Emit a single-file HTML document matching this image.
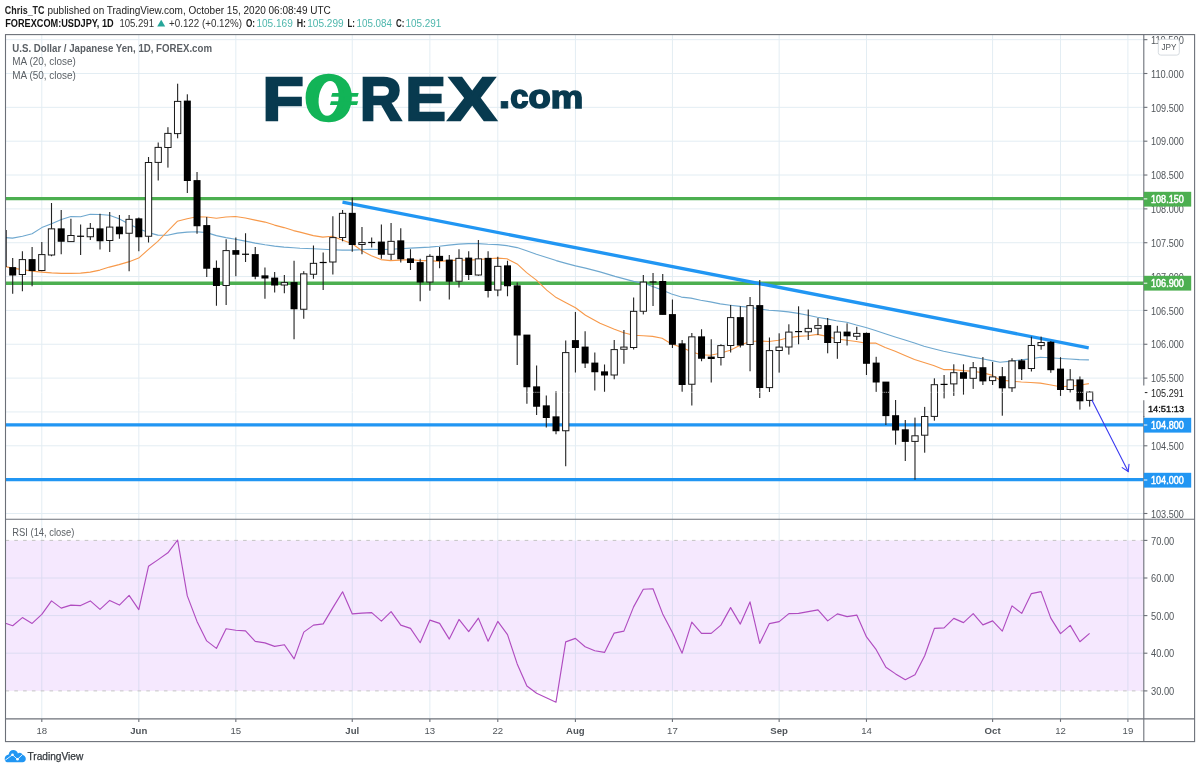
<!DOCTYPE html>
<html lang="en"><head><meta charset="utf-8"><title>USDJPY chart</title>
<style>html,body{margin:0;padding:0;background:#fff}body{width:1200px;height:771px;overflow:hidden;position:relative}svg{position:absolute;left:0;top:0;display:block}text{font-family:"Liberation Sans",sans-serif;white-space:pre}</style></head><body>
<svg width="1200" height="771" viewBox="0 0 1200 771">
<rect x="0" y="0" width="1200" height="771" fill="#fff"/>
<rect x="5.5" y="540.4" width="1138.3" height="150.5" fill="#f5e8fe"/>
<g stroke="#e3edf3" stroke-width="1" fill="none">
<line x1="5.5" x2="1143.8" y1="39.66" y2="39.66"/>
<line x1="5.5" x2="1143.8" y1="73.50" y2="73.50"/>
<line x1="5.5" x2="1143.8" y1="107.34" y2="107.34"/>
<line x1="5.5" x2="1143.8" y1="141.19" y2="141.19"/>
<line x1="5.5" x2="1143.8" y1="175.03" y2="175.03"/>
<line x1="5.5" x2="1143.8" y1="208.88" y2="208.88"/>
<line x1="5.5" x2="1143.8" y1="242.72" y2="242.72"/>
<line x1="5.5" x2="1143.8" y1="276.57" y2="276.57"/>
<line x1="5.5" x2="1143.8" y1="310.41" y2="310.41"/>
<line x1="5.5" x2="1143.8" y1="344.26" y2="344.26"/>
<line x1="5.5" x2="1143.8" y1="378.11" y2="378.11"/>
<line x1="5.5" x2="1143.8" y1="411.95" y2="411.95"/>
<line x1="5.5" x2="1143.8" y1="445.79" y2="445.79"/>
<line x1="5.5" x2="1143.8" y1="479.64" y2="479.64"/>
<line x1="5.5" x2="1143.8" y1="513.49" y2="513.49"/>
<line x1="41.80" x2="41.80" y1="34.6" y2="519.3"/>
<line x1="138.82" x2="138.82" y1="34.6" y2="519.3"/>
<line x1="235.84" x2="235.84" y1="34.6" y2="519.3"/>
<line x1="352.26" x2="352.26" y1="34.6" y2="519.3"/>
<line x1="429.88" x2="429.88" y1="34.6" y2="519.3"/>
<line x1="497.79" x2="497.79" y1="34.6" y2="519.3"/>
<line x1="575.41" x2="575.41" y1="34.6" y2="519.3"/>
<line x1="672.43" x2="672.43" y1="34.6" y2="519.3"/>
<line x1="779.15" x2="779.15" y1="34.6" y2="519.3"/>
<line x1="866.47" x2="866.47" y1="34.6" y2="519.3"/>
<line x1="992.60" x2="992.60" y1="34.6" y2="519.3"/>
<line x1="1060.51" x2="1060.51" y1="34.6" y2="519.3"/>
<line x1="1127.90" x2="1127.90" y1="34.6" y2="519.3"/>
</g>
<g stroke="#dcdcf2" stroke-width="1" fill="none">
<line x1="5.5" x2="1143.8" y1="578" y2="578"/>
<line x1="5.5" x2="1143.8" y1="615.6" y2="615.6"/>
<line x1="5.5" x2="1143.8" y1="653.2" y2="653.2"/>
<line x1="41.80" x2="41.80" y1="540.4" y2="690.9"/>
<line x1="138.82" x2="138.82" y1="540.4" y2="690.9"/>
<line x1="235.84" x2="235.84" y1="540.4" y2="690.9"/>
<line x1="352.26" x2="352.26" y1="540.4" y2="690.9"/>
<line x1="429.88" x2="429.88" y1="540.4" y2="690.9"/>
<line x1="497.79" x2="497.79" y1="540.4" y2="690.9"/>
<line x1="575.41" x2="575.41" y1="540.4" y2="690.9"/>
<line x1="672.43" x2="672.43" y1="540.4" y2="690.9"/>
<line x1="779.15" x2="779.15" y1="540.4" y2="690.9"/>
<line x1="866.47" x2="866.47" y1="540.4" y2="690.9"/>
<line x1="992.60" x2="992.60" y1="540.4" y2="690.9"/>
<line x1="1060.51" x2="1060.51" y1="540.4" y2="690.9"/>
<line x1="1127.90" x2="1127.90" y1="540.4" y2="690.9"/>
</g>
<g stroke="#e3edf3" stroke-width="1" fill="none">
<line x1="41.80" x2="41.80" y1="519.3" y2="540.4"/><line x1="41.80" x2="41.80" y1="690.9" y2="718.9"/>
<line x1="138.82" x2="138.82" y1="519.3" y2="540.4"/><line x1="138.82" x2="138.82" y1="690.9" y2="718.9"/>
<line x1="235.84" x2="235.84" y1="519.3" y2="540.4"/><line x1="235.84" x2="235.84" y1="690.9" y2="718.9"/>
<line x1="352.26" x2="352.26" y1="519.3" y2="540.4"/><line x1="352.26" x2="352.26" y1="690.9" y2="718.9"/>
<line x1="429.88" x2="429.88" y1="519.3" y2="540.4"/><line x1="429.88" x2="429.88" y1="690.9" y2="718.9"/>
<line x1="497.79" x2="497.79" y1="519.3" y2="540.4"/><line x1="497.79" x2="497.79" y1="690.9" y2="718.9"/>
<line x1="575.41" x2="575.41" y1="519.3" y2="540.4"/><line x1="575.41" x2="575.41" y1="690.9" y2="718.9"/>
<line x1="672.43" x2="672.43" y1="519.3" y2="540.4"/><line x1="672.43" x2="672.43" y1="690.9" y2="718.9"/>
<line x1="779.15" x2="779.15" y1="519.3" y2="540.4"/><line x1="779.15" x2="779.15" y1="690.9" y2="718.9"/>
<line x1="866.47" x2="866.47" y1="519.3" y2="540.4"/><line x1="866.47" x2="866.47" y1="690.9" y2="718.9"/>
<line x1="992.60" x2="992.60" y1="519.3" y2="540.4"/><line x1="992.60" x2="992.60" y1="690.9" y2="718.9"/>
<line x1="1060.51" x2="1060.51" y1="519.3" y2="540.4"/><line x1="1060.51" x2="1060.51" y1="690.9" y2="718.9"/>
<line x1="1127.90" x2="1127.90" y1="519.3" y2="540.4"/><line x1="1127.90" x2="1127.90" y1="690.9" y2="718.9"/>
</g>
<g stroke="#c4c4c4" stroke-width="1" stroke-dasharray="3.6,5.2"><line x1="5.5" x2="1143.8" y1="540.4" y2="540.4"/><line x1="5.5" x2="1143.8" y1="690.9" y2="690.9"/></g>
<g id="forexlogo"><text font-weight="bold" stroke-linejoin="miter"><tspan x="262.48" y="119.90" font-size="61.92" textLength="41.20" lengthAdjust="spacingAndGlyphs" fill="#083a4f" stroke="#083a4f" stroke-width="2.6">F</tspan><tspan x="307.06" y="117.98" font-size="56.64" textLength="43.54" lengthAdjust="spacingAndGlyphs" fill="#12b457" stroke="#12b457" stroke-width="7.5">O</tspan><tspan x="360.03" y="119.90" font-size="61.92" textLength="41.69" lengthAdjust="spacingAndGlyphs" fill="#083a4f" stroke="#083a4f" stroke-width="2.6">R</tspan><tspan x="405.56" y="119.90" font-size="61.92" textLength="40.19" lengthAdjust="spacingAndGlyphs" fill="#083a4f" stroke="#083a4f" stroke-width="2.6">E</tspan><tspan x="448.25" y="119.90" font-size="61.92" textLength="47.89" lengthAdjust="spacingAndGlyphs" fill="#083a4f" stroke="#083a4f" stroke-width="2.6">X</tspan><tspan x="498.02" y="108.30" font-size="44.30" textLength="13.00" lengthAdjust="spacingAndGlyphs" fill="#083a4f" stroke="#083a4f" stroke-width="0.8">.</tspan><tspan x="510.33" y="107.88" font-size="32.48" textLength="18.12" lengthAdjust="spacingAndGlyphs" fill="#083a4f" stroke="#083a4f" stroke-width="1.6">c</tspan><tspan x="528.58" y="107.88" font-size="32.48" textLength="22.23" lengthAdjust="spacingAndGlyphs" fill="#083a4f" stroke="#083a4f" stroke-width="1.6">o</tspan><tspan x="550.79" y="107.90" font-size="32.10" textLength="32.48" lengthAdjust="spacingAndGlyphs" fill="#083a4f" stroke="#083a4f" stroke-width="1.6">m</tspan></text><ellipse cx="0" cy="0" rx="9.9" ry="17.4" transform="translate(328.6 98.45) skewX(-5)" fill="#fff"/><polygon points="332.3,93 358.7,93 357.6,96.8 331.1,96.8" fill="#12b457"/><polygon points="331,101.2 358.2,101.2 357,104.9 329.9,104.9" fill="#12b457"/></g>
<line x1="5.5" x2="1143.8" y1="198.6" y2="198.6" stroke="#4caf50" stroke-width="3.4"/>
<line x1="5.5" x2="1143.8" y1="283.2" y2="283.2" stroke="#4caf50" stroke-width="3.4"/>
<line x1="5.5" x2="1143.8" y1="424.8" y2="424.8" stroke="#2196f3" stroke-width="3.2"/>
<line x1="5.5" x2="1143.8" y1="479.7" y2="479.7" stroke="#2196f3" stroke-width="3.2"/>
<polyline fill="none" stroke="#6fa8cf" stroke-width="1.1" stroke-linejoin="round" points="5.5,237.6 12.5,238.1 22.5,236.3 32.1,233.8 41.8,227.6 51.6,223.8 61.4,219.5 70.9,216.5 80.6,216.8 90.2,214.3 99.9,214.5 109.4,215.3 119.0,218.8 128.5,223.8 138.7,228.8 148.5,232.6 157.8,235.1 167.5,235.3 177.3,233.1 187.1,232.1 196.8,231.8 206.6,232.6 216.4,235.6 225.9,237.6 235.4,239.3 245.4,241.1 255.2,243.1 265.0,244.8 274.5,246.1 284.0,247.1 293.5,247.8 300.0,248.3 313.3,248.8 322.8,249.3 332.3,249.8 342.1,250.1 352.3,250.1 361.9,249.6 371.4,249.3 380.9,249.6 390.4,249.3 400.2,248.8 410.4,248.1 420.0,247.6 429.5,247.1 439.2,246.3 448.8,245.1 458.8,244.1 468.3,243.6 478.1,243.6 487.8,244.3 497.6,244.6 506.9,245.6 517.1,247.6 526.6,250.8 536.4,254.3 546.7,257.6 556.2,260.6 566.0,263.4 575.5,265.9 585.5,268.1 600.0,271.9 615.0,276.4 633.6,281.4 643.1,283.1 652.6,286.4 662.1,290.1 671.6,293.9 681.4,297.1 690.9,298.1 700.7,300.2 710.4,301.9 720.2,303.9 730.2,305.2 740.2,306.4 749.8,307.2 759.5,308.9 769.0,310.2 778.6,310.9 788.3,311.9 798.3,313.4 807.9,315.2 817.4,317.2 826.9,318.9 836.4,320.7 846.7,322.2 856.4,325.0 865.9,327.5 875.5,330.5 885.2,333.8 895.2,337.0 905.0,340.1 914.5,343.1 924.0,346.3 933.6,348.8 943.6,351.3 953.3,353.3 962.9,355.1 972.6,357.1 982.1,358.8 991.7,360.6 1000.0,362.2 1011.4,361.1 1021.3,359.9 1030.6,358.9 1040.3,357.2 1049.7,357.7 1060.4,358.5 1069.8,359.0 1079.3,359.6 1088.9,359.9"/>
<polyline fill="none" stroke="#f7994a" stroke-width="1.1" stroke-linejoin="round" points="5.5,266.6 12.5,268.1 22.5,269.6 32.1,271.1 41.8,272.1 51.6,272.9 61.4,273.4 70.9,273.4 80.6,273.1 90.2,272.1 99.9,270.1 109.4,267.1 119.0,264.6 128.5,261.9 138.7,258.1 148.5,249.3 157.8,241.3 167.5,231.3 177.3,221.3 187.1,218.8 196.8,216.8 206.6,217.0 216.4,218.3 225.9,217.0 235.4,216.5 245.4,218.0 255.2,220.1 265.0,222.1 274.5,225.1 284.0,227.6 293.5,230.6 300.0,232.1 313.3,235.6 322.8,237.1 332.3,236.3 342.1,240.1 352.3,243.8 361.9,250.8 371.4,255.8 380.9,259.6 390.4,260.6 400.2,260.1 410.4,259.6 420.0,260.6 429.5,260.6 439.2,261.4 448.8,260.6 458.8,260.1 468.3,260.1 478.1,259.6 487.8,258.8 497.6,258.1 506.9,258.8 517.1,263.9 526.6,272.6 536.4,280.1 546.7,290.1 556.2,297.6 566.0,302.7 575.5,307.7 585.5,315.2 600.0,323.2 613.8,328.9 623.8,332.7 633.6,335.2 643.1,335.7 652.6,336.4 662.1,338.2 671.6,344.0 681.4,347.2 690.9,351.5 700.7,354.7 710.4,355.2 720.2,353.2 730.2,350.2 740.2,345.2 749.8,341.5 759.5,341.0 769.0,341.5 778.6,340.2 788.3,337.7 798.3,336.4 807.9,335.7 817.4,334.4 826.9,336.4 836.4,338.9 846.7,340.2 856.2,341.5 865.9,343.1 875.5,343.1 885.2,347.6 895.2,351.3 905.0,355.6 914.5,359.6 924.0,362.6 933.6,365.6 943.6,369.6 953.3,369.6 962.9,370.6 972.6,371.3 982.1,372.6 991.7,375.1 1000.0,380.0 1011.4,381.1 1021.3,382.0 1030.6,382.5 1040.3,383.1 1049.7,384.8 1060.4,386.7 1069.8,386.1 1079.3,385.3 1088.9,383.6"/>
<line x1="342.5" y1="202.2" x2="1088.7" y2="347.8" stroke="#2196f3" stroke-width="3.3" />
<g>
<rect x="5.5" y="230" width="1.2" height="37" fill="#111"/>
<rect x="12.14" y="258.00" width="1.1" height="35.75" fill="#222"/>
<rect x="9.19" y="267.10" width="7" height="8.40" fill="#000"/>
<rect x="21.85" y="251.25" width="1.1" height="40.00" fill="#222"/>
<rect x="19.25" y="259.60" width="6.3" height="14.90" fill="#fff" stroke="#1a1a1a" stroke-width="1"/>
<rect x="31.55" y="247.00" width="1.1" height="39.25" fill="#222"/>
<rect x="28.60" y="259.10" width="7" height="11.90" fill="#000"/>
<rect x="41.25" y="242.00" width="1.1" height="29.25" fill="#222"/>
<rect x="38.65" y="254.60" width="6.3" height="15.90" fill="#fff" stroke="#1a1a1a" stroke-width="1"/>
<rect x="50.95" y="203.00" width="1.1" height="53.25" fill="#222"/>
<rect x="48.35" y="228.85" width="6.3" height="26.15" fill="#fff" stroke="#1a1a1a" stroke-width="1"/>
<rect x="60.65" y="210.00" width="1.1" height="44.25" fill="#222"/>
<rect x="57.70" y="228.35" width="7" height="13.40" fill="#000"/>
<rect x="70.36" y="218.75" width="1.1" height="23.00" fill="#222"/>
<rect x="67.76" y="235.50" width="6.3" height="6.10" fill="#fff" stroke="#1a1a1a" stroke-width="1"/>
<rect x="80.06" y="224.50" width="1.1" height="30.50" fill="#222"/>
<rect x="77.11" y="235.65" width="7" height="1.2" fill="#000"/>
<rect x="89.76" y="223.00" width="1.1" height="17.00" fill="#222"/>
<rect x="87.16" y="228.35" width="6.3" height="8.40" fill="#fff" stroke="#1a1a1a" stroke-width="1"/>
<rect x="99.46" y="213.75" width="1.1" height="35.75" fill="#222"/>
<rect x="96.51" y="228.35" width="7" height="12.90" fill="#000"/>
<rect x="109.16" y="212.00" width="1.1" height="40.00" fill="#222"/>
<rect x="106.56" y="227.10" width="6.3" height="13.40" fill="#fff" stroke="#1a1a1a" stroke-width="1"/>
<rect x="118.87" y="215.00" width="1.1" height="23.75" fill="#222"/>
<rect x="115.92" y="226.60" width="7" height="7.65" fill="#000"/>
<rect x="128.57" y="215.00" width="1.1" height="56.25" fill="#222"/>
<rect x="125.97" y="219.35" width="6.3" height="13.90" fill="#fff" stroke="#1a1a1a" stroke-width="1"/>
<rect x="138.27" y="217.50" width="1.1" height="33.75" fill="#222"/>
<rect x="135.32" y="218.35" width="7" height="18.90" fill="#000"/>
<rect x="147.97" y="157.00" width="1.1" height="85.50" fill="#222"/>
<rect x="145.37" y="162.50" width="6.3" height="73.75" fill="#fff" stroke="#1a1a1a" stroke-width="1"/>
<rect x="157.67" y="142.50" width="1.1" height="38.00" fill="#222"/>
<rect x="155.07" y="147.40" width="6.3" height="15.00" fill="#fff" stroke="#1a1a1a" stroke-width="1"/>
<rect x="167.38" y="127.20" width="1.1" height="40.40" fill="#222"/>
<rect x="164.78" y="133.40" width="6.3" height="14.10" fill="#fff" stroke="#1a1a1a" stroke-width="1"/>
<rect x="177.08" y="83.70" width="1.1" height="54.60" fill="#222"/>
<rect x="174.48" y="101.40" width="6.3" height="32.20" fill="#fff" stroke="#1a1a1a" stroke-width="1"/>
<rect x="186.78" y="94.30" width="1.1" height="98.70" fill="#222"/>
<rect x="183.83" y="100.60" width="7" height="80.40" fill="#000"/>
<rect x="196.48" y="172.00" width="1.1" height="61.75" fill="#222"/>
<rect x="193.53" y="180.10" width="7" height="46.15" fill="#000"/>
<rect x="206.18" y="217.00" width="1.1" height="60.00" fill="#222"/>
<rect x="203.23" y="225.10" width="7" height="43.65" fill="#000"/>
<rect x="215.89" y="260.50" width="1.1" height="45.25" fill="#222"/>
<rect x="212.94" y="267.85" width="7" height="18.15" fill="#000"/>
<rect x="225.59" y="239.25" width="1.1" height="65.75" fill="#222"/>
<rect x="222.99" y="250.60" width="6.3" height="34.90" fill="#fff" stroke="#1a1a1a" stroke-width="1"/>
<rect x="235.29" y="237.50" width="1.1" height="38.75" fill="#222"/>
<rect x="232.34" y="250.10" width="7" height="4.65" fill="#000"/>
<rect x="244.99" y="233.25" width="1.1" height="28.75" fill="#222"/>
<rect x="242.04" y="253.65" width="7" height="1.2" fill="#000"/>
<rect x="254.69" y="247.00" width="1.1" height="32.25" fill="#222"/>
<rect x="251.74" y="254.10" width="7" height="22.65" fill="#000"/>
<rect x="264.40" y="267.50" width="1.1" height="31.25" fill="#222"/>
<rect x="261.45" y="275.35" width="7" height="3.15" fill="#000"/>
<rect x="274.10" y="272.00" width="1.1" height="20.50" fill="#222"/>
<rect x="271.15" y="277.60" width="7" height="7.90" fill="#000"/>
<rect x="283.80" y="275.00" width="1.1" height="18.25" fill="#222"/>
<rect x="281.20" y="282.60" width="6.3" height="2.40" fill="#fff" stroke="#1a1a1a" stroke-width="1"/>
<rect x="293.50" y="260.75" width="1.1" height="78.50" fill="#222"/>
<rect x="290.55" y="282.10" width="7" height="27.15" fill="#000"/>
<rect x="303.20" y="271.20" width="1.1" height="47.55" fill="#222"/>
<rect x="300.60" y="273.85" width="6.3" height="35.40" fill="#fff" stroke="#1a1a1a" stroke-width="1"/>
<rect x="312.91" y="245.50" width="1.1" height="33.25" fill="#222"/>
<rect x="310.31" y="263.35" width="6.3" height="10.90" fill="#fff" stroke="#1a1a1a" stroke-width="1"/>
<rect x="322.61" y="252.50" width="1.1" height="37.50" fill="#222"/>
<rect x="319.66" y="261.90" width="7" height="1.2" fill="#000"/>
<rect x="332.31" y="216.25" width="1.1" height="58.25" fill="#222"/>
<rect x="329.71" y="237.60" width="6.3" height="24.40" fill="#fff" stroke="#1a1a1a" stroke-width="1"/>
<rect x="342.01" y="210.00" width="1.1" height="31.25" fill="#222"/>
<rect x="339.41" y="213.35" width="6.3" height="24.15" fill="#fff" stroke="#1a1a1a" stroke-width="1"/>
<rect x="351.71" y="197.50" width="1.1" height="54.25" fill="#222"/>
<rect x="348.76" y="212.85" width="7" height="32.15" fill="#000"/>
<rect x="361.42" y="227.00" width="1.1" height="27.25" fill="#222"/>
<rect x="358.82" y="242.60" width="6.3" height="1.90" fill="#fff" stroke="#1a1a1a" stroke-width="1"/>
<rect x="371.12" y="237.50" width="1.1" height="10.00" fill="#222"/>
<rect x="368.17" y="241.90" width="7" height="1.2" fill="#000"/>
<rect x="380.82" y="224.50" width="1.1" height="34.25" fill="#222"/>
<rect x="377.87" y="241.60" width="7" height="13.15" fill="#000"/>
<rect x="390.52" y="223.00" width="1.1" height="37.00" fill="#222"/>
<rect x="387.92" y="241.35" width="6.3" height="12.90" fill="#fff" stroke="#1a1a1a" stroke-width="1"/>
<rect x="400.22" y="228.25" width="1.1" height="34.25" fill="#222"/>
<rect x="397.27" y="240.35" width="7" height="18.90" fill="#000"/>
<rect x="409.93" y="249.25" width="1.1" height="20.75" fill="#222"/>
<rect x="406.98" y="258.35" width="7" height="4.65" fill="#000"/>
<rect x="419.63" y="258.75" width="1.1" height="42.50" fill="#222"/>
<rect x="416.68" y="262.10" width="7" height="20.40" fill="#000"/>
<rect x="429.33" y="254.25" width="1.1" height="36.50" fill="#222"/>
<rect x="426.73" y="256.35" width="6.3" height="25.65" fill="#fff" stroke="#1a1a1a" stroke-width="1"/>
<rect x="439.03" y="247.00" width="1.1" height="21.25" fill="#222"/>
<rect x="436.08" y="255.85" width="7" height="5.15" fill="#000"/>
<rect x="448.73" y="255.00" width="1.1" height="44.50" fill="#222"/>
<rect x="445.78" y="259.60" width="7" height="22.15" fill="#000"/>
<rect x="458.44" y="249.25" width="1.1" height="38.25" fill="#222"/>
<rect x="455.84" y="258.35" width="6.3" height="22.90" fill="#fff" stroke="#1a1a1a" stroke-width="1"/>
<rect x="468.14" y="251.25" width="1.1" height="28.75" fill="#222"/>
<rect x="465.19" y="257.60" width="7" height="17.40" fill="#000"/>
<rect x="477.84" y="240.00" width="1.1" height="35.75" fill="#222"/>
<rect x="475.24" y="258.85" width="6.3" height="16.15" fill="#fff" stroke="#1a1a1a" stroke-width="1"/>
<rect x="487.54" y="251.25" width="1.1" height="46.25" fill="#222"/>
<rect x="484.59" y="257.85" width="7" height="33.15" fill="#000"/>
<rect x="497.24" y="256.75" width="1.1" height="39.50" fill="#222"/>
<rect x="494.64" y="266.35" width="6.3" height="23.65" fill="#fff" stroke="#1a1a1a" stroke-width="1"/>
<rect x="506.95" y="260.75" width="1.1" height="35.50" fill="#222"/>
<rect x="504.00" y="265.35" width="7" height="20.90" fill="#000"/>
<rect x="516.65" y="282.50" width="1.1" height="82.50" fill="#222"/>
<rect x="513.70" y="285.35" width="7" height="50.15" fill="#000"/>
<rect x="526.35" y="335.00" width="1.1" height="68.75" fill="#222"/>
<rect x="523.40" y="334.60" width="7" height="52.65" fill="#000"/>
<rect x="536.05" y="365.50" width="1.1" height="49.50" fill="#222"/>
<rect x="533.10" y="386.35" width="7" height="20.40" fill="#000"/>
<rect x="545.75" y="395.50" width="1.1" height="32.00" fill="#222"/>
<rect x="542.80" y="405.35" width="7" height="12.65" fill="#000"/>
<rect x="555.46" y="391.25" width="1.1" height="43.00" fill="#222"/>
<rect x="552.51" y="416.35" width="7" height="14.90" fill="#000"/>
<rect x="565.16" y="340.50" width="1.1" height="125.75" fill="#222"/>
<rect x="562.56" y="352.60" width="6.3" height="78.15" fill="#fff" stroke="#1a1a1a" stroke-width="1"/>
<rect x="574.86" y="312.00" width="1.1" height="60.50" fill="#222"/>
<rect x="571.91" y="340.10" width="7" height="7.90" fill="#000"/>
<rect x="584.56" y="331.25" width="1.1" height="36.75" fill="#222"/>
<rect x="581.61" y="346.60" width="7" height="16.90" fill="#000"/>
<rect x="594.26" y="352.50" width="1.1" height="38.00" fill="#222"/>
<rect x="591.31" y="362.60" width="7" height="9.65" fill="#000"/>
<rect x="603.97" y="364.50" width="1.1" height="27.25" fill="#222"/>
<rect x="601.02" y="371.35" width="7" height="4.15" fill="#000"/>
<rect x="613.67" y="340.00" width="1.1" height="39.25" fill="#222"/>
<rect x="611.07" y="349.60" width="6.3" height="25.40" fill="#fff" stroke="#1a1a1a" stroke-width="1"/>
<rect x="623.37" y="330.00" width="1.1" height="33.75" fill="#222"/>
<rect x="620.77" y="347.10" width="6.3" height="2.15" fill="#fff" stroke="#1a1a1a" stroke-width="1"/>
<rect x="633.07" y="297.50" width="1.1" height="52.00" fill="#222"/>
<rect x="630.47" y="311.35" width="6.3" height="36.15" fill="#fff" stroke="#1a1a1a" stroke-width="1"/>
<rect x="642.77" y="275.00" width="1.1" height="39.40" fill="#222"/>
<rect x="640.17" y="282.10" width="6.3" height="29.15" fill="#fff" stroke="#1a1a1a" stroke-width="1"/>
<rect x="652.48" y="273.00" width="1.1" height="33.00" fill="#222"/>
<rect x="649.53" y="281.40" width="7" height="1.2" fill="#000"/>
<rect x="662.18" y="274.00" width="1.1" height="40.50" fill="#222"/>
<rect x="659.23" y="281.00" width="7" height="33.90" fill="#000"/>
<rect x="671.88" y="299.50" width="1.1" height="48.50" fill="#222"/>
<rect x="668.93" y="314.10" width="7" height="30.65" fill="#000"/>
<rect x="681.58" y="340.00" width="1.1" height="51.75" fill="#222"/>
<rect x="678.63" y="343.35" width="7" height="41.65" fill="#000"/>
<rect x="691.28" y="333.00" width="1.1" height="72.50" fill="#222"/>
<rect x="688.68" y="336.85" width="6.3" height="47.40" fill="#fff" stroke="#1a1a1a" stroke-width="1"/>
<rect x="700.99" y="329.25" width="1.1" height="32.00" fill="#222"/>
<rect x="698.04" y="336.35" width="7" height="22.40" fill="#000"/>
<rect x="710.69" y="339.25" width="1.1" height="43.25" fill="#222"/>
<rect x="707.74" y="356.60" width="7" height="2.40" fill="#000"/>
<rect x="720.39" y="344.25" width="1.1" height="21.25" fill="#222"/>
<rect x="717.79" y="345.60" width="6.3" height="11.90" fill="#fff" stroke="#1a1a1a" stroke-width="1"/>
<rect x="730.09" y="305.00" width="1.1" height="47.50" fill="#222"/>
<rect x="727.49" y="317.60" width="6.3" height="27.90" fill="#fff" stroke="#1a1a1a" stroke-width="1"/>
<rect x="739.79" y="306.25" width="1.1" height="41.25" fill="#222"/>
<rect x="736.84" y="317.10" width="7" height="28.40" fill="#000"/>
<rect x="749.50" y="297.00" width="1.1" height="74.25" fill="#222"/>
<rect x="746.90" y="305.60" width="6.3" height="38.90" fill="#fff" stroke="#1a1a1a" stroke-width="1"/>
<rect x="759.20" y="280.00" width="1.1" height="118.00" fill="#222"/>
<rect x="756.25" y="305.10" width="7" height="82.90" fill="#000"/>
<rect x="768.90" y="337.50" width="1.1" height="54.50" fill="#222"/>
<rect x="766.30" y="350.60" width="6.3" height="37.00" fill="#fff" stroke="#1a1a1a" stroke-width="1"/>
<rect x="778.60" y="333.30" width="1.1" height="39.30" fill="#222"/>
<rect x="776.00" y="347.10" width="6.3" height="3.40" fill="#fff" stroke="#1a1a1a" stroke-width="1"/>
<rect x="788.30" y="324.30" width="1.1" height="30.30" fill="#222"/>
<rect x="785.70" y="332.10" width="6.3" height="14.90" fill="#fff" stroke="#1a1a1a" stroke-width="1"/>
<rect x="798.01" y="306.30" width="1.1" height="38.00" fill="#222"/>
<rect x="795.06" y="331.00" width="7" height="1.2" fill="#000"/>
<rect x="807.71" y="309.50" width="1.1" height="30.50" fill="#222"/>
<rect x="805.11" y="328.40" width="6.3" height="3.40" fill="#fff" stroke="#1a1a1a" stroke-width="1"/>
<rect x="817.41" y="318.00" width="1.1" height="17.00" fill="#222"/>
<rect x="814.81" y="325.60" width="6.3" height="2.70" fill="#fff" stroke="#1a1a1a" stroke-width="1"/>
<rect x="827.11" y="318.00" width="1.1" height="35.30" fill="#222"/>
<rect x="824.16" y="325.10" width="7" height="17.90" fill="#000"/>
<rect x="836.81" y="325.80" width="1.1" height="33.00" fill="#222"/>
<rect x="834.21" y="332.10" width="6.3" height="10.40" fill="#fff" stroke="#1a1a1a" stroke-width="1"/>
<rect x="846.52" y="323.30" width="1.1" height="22.20" fill="#222"/>
<rect x="843.57" y="331.60" width="7" height="4.70" fill="#000"/>
<rect x="856.22" y="326.80" width="1.1" height="13.20" fill="#222"/>
<rect x="853.62" y="333.40" width="6.3" height="2.90" fill="#fff" stroke="#1a1a1a" stroke-width="1"/>
<rect x="865.92" y="332.50" width="1.1" height="42.50" fill="#222"/>
<rect x="862.97" y="332.90" width="7" height="30.90" fill="#000"/>
<rect x="875.62" y="356.80" width="1.1" height="35.10" fill="#222"/>
<rect x="872.67" y="362.60" width="7" height="19.90" fill="#000"/>
<rect x="885.32" y="382.00" width="1.1" height="43.00" fill="#222"/>
<rect x="882.37" y="381.60" width="7" height="34.50" fill="#000"/>
<rect x="895.03" y="400.00" width="1.1" height="44.70" fill="#222"/>
<rect x="892.08" y="415.20" width="7" height="15.30" fill="#000"/>
<rect x="904.73" y="420.00" width="1.1" height="41.00" fill="#222"/>
<rect x="901.78" y="429.30" width="7" height="12.60" fill="#000"/>
<rect x="914.43" y="417.60" width="1.1" height="62.10" fill="#222"/>
<rect x="911.83" y="435.80" width="6.3" height="5.60" fill="#fff" stroke="#1a1a1a" stroke-width="1"/>
<rect x="924.13" y="406.90" width="1.1" height="45.80" fill="#222"/>
<rect x="921.53" y="416.50" width="6.3" height="18.70" fill="#fff" stroke="#1a1a1a" stroke-width="1"/>
<rect x="933.83" y="378.30" width="1.1" height="42.40" fill="#222"/>
<rect x="931.23" y="384.70" width="6.3" height="31.70" fill="#fff" stroke="#1a1a1a" stroke-width="1"/>
<rect x="943.54" y="375.00" width="1.1" height="23.40" fill="#222"/>
<rect x="940.59" y="383.80" width="7" height="1.2" fill="#000"/>
<rect x="953.24" y="364.30" width="1.1" height="31.60" fill="#222"/>
<rect x="950.64" y="372.70" width="6.3" height="11.20" fill="#fff" stroke="#1a1a1a" stroke-width="1"/>
<rect x="962.94" y="364.30" width="1.1" height="30.30" fill="#222"/>
<rect x="959.99" y="372.20" width="7" height="6.60" fill="#000"/>
<rect x="972.64" y="362.00" width="1.1" height="26.90" fill="#222"/>
<rect x="970.04" y="367.70" width="6.3" height="10.60" fill="#fff" stroke="#1a1a1a" stroke-width="1"/>
<rect x="982.34" y="357.00" width="1.1" height="28.00" fill="#222"/>
<rect x="979.39" y="367.20" width="7" height="14.20" fill="#000"/>
<rect x="992.05" y="362.00" width="1.1" height="23.00" fill="#222"/>
<rect x="989.45" y="376.90" width="6.3" height="3.70" fill="#fff" stroke="#1a1a1a" stroke-width="1"/>
<rect x="1001.75" y="367.00" width="1.1" height="48.70" fill="#222"/>
<rect x="998.80" y="376.20" width="7" height="12.10" fill="#000"/>
<rect x="1011.45" y="358.20" width="1.1" height="33.80" fill="#222"/>
<rect x="1008.85" y="360.90" width="6.3" height="26.90" fill="#fff" stroke="#1a1a1a" stroke-width="1"/>
<rect x="1021.15" y="359.00" width="1.1" height="21.00" fill="#222"/>
<rect x="1018.20" y="360.40" width="7" height="8.80" fill="#000"/>
<rect x="1030.85" y="336.60" width="1.1" height="34.90" fill="#222"/>
<rect x="1028.25" y="345.50" width="6.3" height="23.00" fill="#fff" stroke="#1a1a1a" stroke-width="1"/>
<rect x="1040.56" y="336.60" width="1.1" height="13.10" fill="#222"/>
<rect x="1037.96" y="342.50" width="6.3" height="3.10" fill="#fff" stroke="#1a1a1a" stroke-width="1"/>
<rect x="1050.26" y="341.00" width="1.1" height="31.80" fill="#222"/>
<rect x="1047.31" y="341.80" width="7" height="28.40" fill="#000"/>
<rect x="1059.96" y="357.20" width="1.1" height="38.70" fill="#222"/>
<rect x="1057.01" y="368.60" width="7" height="21.40" fill="#000"/>
<rect x="1069.66" y="369.10" width="1.1" height="23.50" fill="#222"/>
<rect x="1067.06" y="379.90" width="6.3" height="9.60" fill="#fff" stroke="#1a1a1a" stroke-width="1"/>
<rect x="1079.36" y="376.50" width="1.1" height="33.10" fill="#222"/>
<rect x="1076.41" y="379.40" width="7" height="21.90" fill="#000"/>
<rect x="1089.07" y="391.20" width="1.1" height="15.40" fill="#222"/>
<rect x="1086.47" y="392.10" width="6.3" height="8.30" fill="#fff" stroke="#1a1a1a" stroke-width="1"/>
</g>
<line x1="6.5" x2="1142.8" y1="392.3" y2="392.3" stroke="#fff" stroke-opacity="0.85" stroke-width="0.9" stroke-dasharray="0.95,0.95"/>
<g stroke="#3a3af0" stroke-width="1.1" fill="none" stroke-linecap="round"><line x1="1092" y1="400.2" x2="1128.2" y2="471.5"/><polyline points="1122.2,467.6 1128.2,471.5 1129.0,464.2"/></g>
<polyline fill="none" stroke="#b04cc0" stroke-width="1.15" stroke-linejoin="round" points="5.5,623.2 12.7,625.7 22.4,617.6 32.1,623.4 41.8,614.4 51.5,600.9 61.2,608.1 70.9,605.1 80.6,605.6 90.3,600.9 100.0,609.4 109.7,600.4 119.4,605.1 129.1,595.4 138.8,609.6 148.5,566.3 158.2,559.6 167.9,552.8 177.6,540.0 187.3,595.9 197.0,621.4 206.7,640.9 216.4,648.4 226.1,628.7 235.8,630.2 245.5,630.9 255.2,641.4 264.9,642.9 274.6,646.4 284.4,644.7 294.1,658.9 303.8,632.1 313.5,625.1 323.2,623.9 332.9,607.6 342.6,591.8 352.3,613.9 362.0,613.1 371.7,612.6 381.4,621.1 391.1,611.6 400.8,625.1 410.5,628.4 420.2,642.7 429.9,620.1 439.6,623.4 449.3,639.1 459.0,619.4 468.7,631.6 478.4,618.1 488.1,641.2 497.8,621.4 507.5,634.6 517.2,663.9 526.9,686.0 536.6,693.2 546.3,697.7 556.0,702.2 565.7,641.9 575.4,638.4 585.1,646.7 594.8,650.7 604.5,652.4 614.2,633.1 623.9,631.1 633.6,606.9 643.3,589.3 653.0,588.8 662.7,613.9 672.4,632.6 682.1,653.2 691.8,622.1 701.5,633.4 711.2,633.4 720.9,625.1 730.6,607.6 740.3,624.1 750.0,601.9 759.7,643.4 769.4,623.6 779.2,621.6 788.9,613.6 798.6,613.4 808.3,611.6 818.0,609.9 827.7,620.9 837.4,613.9 847.1,616.6 856.8,615.1 866.5,636.9 876.2,649.7 885.9,667.2 895.6,673.9 905.3,679.7 915.0,674.7 924.7,655.7 934.4,628.4 944.1,627.9 953.8,618.4 963.5,622.6 973.2,613.6 982.9,624.9 992.6,620.9 1002.3,631.1 1012.0,605.9 1021.7,613.4 1031.4,593.6 1041.1,591.6 1050.8,618.1 1060.5,633.6 1070.2,625.4 1079.9,641.7 1089.6,633.4"/>
<g stroke="#6c7078" stroke-width="1.1" fill="none">
<rect x="5.5" y="34.6" width="1189.1" height="707.0"/>
<line x1="1143.8" x2="1143.8" y1="34.6" y2="741.6"/>
<line x1="5.5" x2="1194.6" y1="519.3" y2="519.3"/>
<line x1="5.5" x2="1194.6" y1="718.9" y2="718.9"/>
<line x1="1143.8" x2="1147.3999999999999" y1="39.66" y2="39.66"/>
<line x1="1143.8" x2="1147.3999999999999" y1="73.50" y2="73.50"/>
<line x1="1143.8" x2="1147.3999999999999" y1="107.34" y2="107.34"/>
<line x1="1143.8" x2="1147.3999999999999" y1="141.19" y2="141.19"/>
<line x1="1143.8" x2="1147.3999999999999" y1="175.03" y2="175.03"/>
<line x1="1143.8" x2="1147.3999999999999" y1="208.88" y2="208.88"/>
<line x1="1143.8" x2="1147.3999999999999" y1="242.72" y2="242.72"/>
<line x1="1143.8" x2="1147.3999999999999" y1="276.57" y2="276.57"/>
<line x1="1143.8" x2="1147.3999999999999" y1="310.41" y2="310.41"/>
<line x1="1143.8" x2="1147.3999999999999" y1="344.26" y2="344.26"/>
<line x1="1143.8" x2="1147.3999999999999" y1="378.11" y2="378.11"/>
<line x1="1143.8" x2="1147.3999999999999" y1="445.79" y2="445.79"/>
<line x1="1143.8" x2="1147.3999999999999" y1="513.49" y2="513.49"/>
<line x1="1143.8" x2="1147.3999999999999" y1="540.4" y2="540.4"/>
<line x1="1143.8" x2="1147.3999999999999" y1="578" y2="578"/>
<line x1="1143.8" x2="1147.3999999999999" y1="615.6" y2="615.6"/>
<line x1="1143.8" x2="1147.3999999999999" y1="653.2" y2="653.2"/>
<line x1="1143.8" x2="1147.3999999999999" y1="690.9" y2="690.9"/>
<line x1="41.80" x2="41.80" y1="718.9" y2="721.9"/>
<line x1="138.82" x2="138.82" y1="718.9" y2="721.9"/>
<line x1="235.84" x2="235.84" y1="718.9" y2="721.9"/>
<line x1="352.26" x2="352.26" y1="718.9" y2="721.9"/>
<line x1="429.88" x2="429.88" y1="718.9" y2="721.9"/>
<line x1="497.79" x2="497.79" y1="718.9" y2="721.9"/>
<line x1="575.41" x2="575.41" y1="718.9" y2="721.9"/>
<line x1="672.43" x2="672.43" y1="718.9" y2="721.9"/>
<line x1="779.15" x2="779.15" y1="718.9" y2="721.9"/>
<line x1="866.47" x2="866.47" y1="718.9" y2="721.9"/>
<line x1="992.60" x2="992.60" y1="718.9" y2="721.9"/>
<line x1="1060.51" x2="1060.51" y1="718.9" y2="721.9"/>
<line x1="1127.90" x2="1127.90" y1="718.9" y2="721.9"/>
</g>
<text x="1151.00" y="43.86" font-size="10" font-weight="normal" fill="#50555a" text-anchor="start" textLength="32.80" lengthAdjust="spacingAndGlyphs" >110.500</text>
<text x="1151.00" y="77.70" font-size="10" font-weight="normal" fill="#50555a" text-anchor="start" textLength="32.80" lengthAdjust="spacingAndGlyphs" >110.000</text>
<text x="1151.00" y="111.55" font-size="10" font-weight="normal" fill="#50555a" text-anchor="start" textLength="32.80" lengthAdjust="spacingAndGlyphs" >109.500</text>
<text x="1151.00" y="145.39" font-size="10" font-weight="normal" fill="#50555a" text-anchor="start" textLength="32.80" lengthAdjust="spacingAndGlyphs" >109.000</text>
<text x="1151.00" y="179.23" font-size="10" font-weight="normal" fill="#50555a" text-anchor="start" textLength="32.80" lengthAdjust="spacingAndGlyphs" >108.500</text>
<text x="1151.00" y="213.08" font-size="10" font-weight="normal" fill="#50555a" text-anchor="start" textLength="32.80" lengthAdjust="spacingAndGlyphs" >108.000</text>
<text x="1151.00" y="246.92" font-size="10" font-weight="normal" fill="#50555a" text-anchor="start" textLength="32.80" lengthAdjust="spacingAndGlyphs" >107.500</text>
<text x="1151.00" y="280.77" font-size="10" font-weight="normal" fill="#50555a" text-anchor="start" textLength="32.80" lengthAdjust="spacingAndGlyphs" >107.000</text>
<text x="1151.00" y="314.61" font-size="10" font-weight="normal" fill="#50555a" text-anchor="start" textLength="32.80" lengthAdjust="spacingAndGlyphs" >106.500</text>
<text x="1151.00" y="348.46" font-size="10" font-weight="normal" fill="#50555a" text-anchor="start" textLength="32.80" lengthAdjust="spacingAndGlyphs" >106.000</text>
<text x="1151.00" y="382.31" font-size="10" font-weight="normal" fill="#50555a" text-anchor="start" textLength="32.80" lengthAdjust="spacingAndGlyphs" >105.500</text>
<text x="1151.00" y="449.99" font-size="10" font-weight="normal" fill="#50555a" text-anchor="start" textLength="32.80" lengthAdjust="spacingAndGlyphs" >104.500</text>
<text x="1151.00" y="517.69" font-size="10" font-weight="normal" fill="#50555a" text-anchor="start" textLength="32.80" lengthAdjust="spacingAndGlyphs" >103.500</text>
<text x="1151.00" y="544.60" font-size="10" font-weight="normal" fill="#50555a" text-anchor="start" textLength="23.20" lengthAdjust="spacingAndGlyphs" >70.00</text>
<text x="1151.00" y="582.20" font-size="10" font-weight="normal" fill="#50555a" text-anchor="start" textLength="23.20" lengthAdjust="spacingAndGlyphs" >60.00</text>
<text x="1151.00" y="619.80" font-size="10" font-weight="normal" fill="#50555a" text-anchor="start" textLength="23.20" lengthAdjust="spacingAndGlyphs" >50.00</text>
<text x="1151.00" y="657.40" font-size="10" font-weight="normal" fill="#50555a" text-anchor="start" textLength="23.20" lengthAdjust="spacingAndGlyphs" >40.00</text>
<text x="1151.00" y="695.10" font-size="10" font-weight="normal" fill="#50555a" text-anchor="start" textLength="23.20" lengthAdjust="spacingAndGlyphs" >30.00</text>
<rect x="1158.3" y="39.3" width="21" height="15.8" rx="2.5" fill="#fff" stroke="#d6dbe0" stroke-width="1"/>
<text x="1161.40" y="50.30" font-size="8.6" font-weight="normal" fill="#50555a" text-anchor="start" textLength="15.00" lengthAdjust="spacingAndGlyphs" >JPY</text>
<rect x="1143.8" y="191.8" width="47.4" height="14.8" fill="#4caf50"/>
<line x1="1143.8" x2="1147.3" y1="198.9" y2="198.9" stroke="#fff" stroke-width="1"/>
<text x="1151.00" y="203.10" font-size="10" font-weight="normal" fill="#fff" text-anchor="start" textLength="32.80" lengthAdjust="spacingAndGlyphs" stroke="#fff" stroke-width="0.5">108.150</text>
<rect x="1143.8" y="275.8" width="47.4" height="14.8" fill="#4caf50"/>
<line x1="1143.8" x2="1147.3" y1="283.2" y2="283.2" stroke="#fff" stroke-width="1"/>
<text x="1151.00" y="287.10" font-size="10" font-weight="normal" fill="#fff" text-anchor="start" textLength="32.80" lengthAdjust="spacingAndGlyphs" stroke="#fff" stroke-width="0.5">106.900</text>
<rect x="1142.8" y="385.5" width="47.4" height="30.5" fill="#fff"/>
<line x1="1143.8" x2="1143.8" y1="400.3" y2="417" stroke="#6c7078" stroke-width="1.1"/>
<line x1="1144.8" x2="1147.3999999999999" y1="392.6" y2="392.6" stroke="#222" stroke-width="1"/>
<text x="1151.00" y="397.00" font-size="10" font-weight="normal" fill="#222" text-anchor="start" textLength="32.80" lengthAdjust="spacingAndGlyphs" >105.291</text>
<text x="1147.90" y="412.30" font-size="9.3" font-weight="normal" fill="#111" text-anchor="start" textLength="36.20" lengthAdjust="spacingAndGlyphs" stroke="#111" stroke-width="0.35">14:51:13</text>
<rect x="1143.8" y="417.8" width="47.4" height="14.8" fill="#2196f3"/>
<line x1="1143.8" x2="1147.3" y1="425" y2="425" stroke="#fff" stroke-width="1"/>
<text x="1151.00" y="428.90" font-size="10" font-weight="normal" fill="#fff" text-anchor="start" textLength="32.80" lengthAdjust="spacingAndGlyphs" stroke="#fff" stroke-width="0.5">104.800</text>
<rect x="1143.8" y="472.8" width="47.4" height="14.8" fill="#2196f3"/>
<line x1="1143.8" x2="1147.3" y1="480" y2="480" stroke="#fff" stroke-width="1"/>
<text x="1151.00" y="483.90" font-size="10" font-weight="normal" fill="#fff" text-anchor="start" textLength="32.80" lengthAdjust="spacingAndGlyphs" stroke="#fff" stroke-width="0.5">104.000</text>
<text x="41.80" y="734.20" font-size="9.6" font-weight="normal" fill="#50555a" text-anchor="middle" >18</text>
<text x="138.82" y="734.20" font-size="9.6" font-weight="bold" fill="#50555a" text-anchor="middle" >Jun</text>
<text x="235.84" y="734.20" font-size="9.6" font-weight="normal" fill="#50555a" text-anchor="middle" >15</text>
<text x="352.26" y="734.20" font-size="9.6" font-weight="bold" fill="#50555a" text-anchor="middle" >Jul</text>
<text x="429.88" y="734.20" font-size="9.6" font-weight="normal" fill="#50555a" text-anchor="middle" >13</text>
<text x="497.79" y="734.20" font-size="9.6" font-weight="normal" fill="#50555a" text-anchor="middle" >22</text>
<text x="575.41" y="734.20" font-size="9.6" font-weight="bold" fill="#50555a" text-anchor="middle" >Aug</text>
<text x="672.43" y="734.20" font-size="9.6" font-weight="normal" fill="#50555a" text-anchor="middle" >17</text>
<text x="779.15" y="734.20" font-size="9.6" font-weight="bold" fill="#50555a" text-anchor="middle" >Sep</text>
<text x="866.47" y="734.20" font-size="9.6" font-weight="normal" fill="#50555a" text-anchor="middle" >14</text>
<text x="992.60" y="734.20" font-size="9.6" font-weight="bold" fill="#50555a" text-anchor="middle" >Oct</text>
<text x="1060.51" y="734.20" font-size="9.6" font-weight="normal" fill="#50555a" text-anchor="middle" >12</text>
<text x="1127.90" y="734.20" font-size="9.6" font-weight="normal" fill="#50555a" text-anchor="middle" >19</text>
<text x="4.80" y="14.10" font-size="10.0" font-weight="bold" fill="#222" text-anchor="start" textLength="39.70" lengthAdjust="spacingAndGlyphs" >Chris_TC</text>
<text x="47.50" y="14.10" font-size="10.0" font-weight="normal" fill="#222" text-anchor="start" textLength="283.30" lengthAdjust="spacingAndGlyphs" >published on TradingView.com, October 15, 2020 06:08:49 UTC</text>
<text x="5.20" y="27.00" font-size="10.0" font-weight="bold" fill="#111" text-anchor="start" textLength="108.50" lengthAdjust="spacingAndGlyphs" >FOREXCOM:USDJPY, 1D</text>
<text x="119.40" y="27.00" font-size="10.0" font-weight="normal" fill="#333" text-anchor="start" textLength="34.60" lengthAdjust="spacingAndGlyphs" >105.291</text>
<polygon points="157.2,26.6 165.2,26.6 161.2,19.8" fill="#26a69a"/>
<text x="169.00" y="27.00" font-size="10.0" font-weight="normal" fill="#333" text-anchor="start" textLength="73.00" lengthAdjust="spacingAndGlyphs" >+0.122 (+0.12%)</text>
<text x="245.90" y="27.00" font-size="10.0" font-weight="bold" fill="#222" text-anchor="start" textLength="9.10" lengthAdjust="spacingAndGlyphs" >O:</text>
<text x="256.40" y="27.00" font-size="10.0" font-weight="normal" fill="#4db6ac" text-anchor="start" textLength="36.40" lengthAdjust="spacingAndGlyphs" >105.169</text>
<text x="296.70" y="27.00" font-size="10.0" font-weight="bold" fill="#222" text-anchor="start" textLength="9.30" lengthAdjust="spacingAndGlyphs" >H:</text>
<text x="307.20" y="27.00" font-size="10.0" font-weight="normal" fill="#4db6ac" text-anchor="start" textLength="36.40" lengthAdjust="spacingAndGlyphs" >105.299</text>
<text x="347.50" y="27.00" font-size="10.0" font-weight="bold" fill="#222" text-anchor="start" textLength="7.50" lengthAdjust="spacingAndGlyphs" >L:</text>
<text x="356.50" y="27.00" font-size="10.0" font-weight="normal" fill="#4db6ac" text-anchor="start" textLength="35.50" lengthAdjust="spacingAndGlyphs" >105.084</text>
<text x="396.00" y="27.00" font-size="10.0" font-weight="bold" fill="#222" text-anchor="start" textLength="8.40" lengthAdjust="spacingAndGlyphs" >C:</text>
<text x="405.50" y="27.00" font-size="10.0" font-weight="normal" fill="#4db6ac" text-anchor="start" textLength="35.90" lengthAdjust="spacingAndGlyphs" >105.291</text>
<text x="12.30" y="51.70" font-size="10.0" font-weight="bold" fill="#5a5f64" text-anchor="start" textLength="199.70" lengthAdjust="spacingAndGlyphs" >U.S. Dollar / Japanese Yen, 1D, FOREX.com</text>
<text x="12.30" y="65.00" font-size="10.0" font-weight="normal" fill="#5a5f64" text-anchor="start" textLength="63.50" lengthAdjust="spacingAndGlyphs" >MA (20, close)</text>
<text x="12.30" y="78.50" font-size="10.0" font-weight="normal" fill="#5a5f64" text-anchor="start" textLength="63.50" lengthAdjust="spacingAndGlyphs" >MA (50, close)</text>
<text x="12.30" y="536.00" font-size="10.0" font-weight="normal" fill="#5a5f64" text-anchor="start" textLength="62.00" lengthAdjust="spacingAndGlyphs" >RSI (14, close)</text>
<g id="tvicon"><path d="M6.9 762.2 C5.5 762.2 4.6 760.6 4.7 758.6 C4.8 756.4 6.6 754.9 8.7 754.6 C8.9 752.0 10.8 750.0 13.3 750.0 C15.6 750.0 17.4 751.5 17.9 753.4 C18.8 752.6 20.4 752.6 21.6 753.4 C22.3 753.9 22.7 754.5 22.9 755.0 C24.6 755.6 25.8 757.1 25.8 758.9 C25.8 760.8 24.4 762.2 22.6 762.2 Z" fill="#2196f3"/><polyline points="5.3,760.1 12.5,754.8 17.5,759.3 22.4,754.6" fill="none" stroke="#fff" stroke-width="0.85"/><circle cx="12.5" cy="754.8" r="1.3" fill="#fff"/><circle cx="17.5" cy="759.3" r="1.3" fill="#fff"/></g>
<text x="27.50" y="760.10" font-size="10.4" font-weight="normal" fill="#33383d" text-anchor="start" textLength="55.80" lengthAdjust="spacingAndGlyphs" stroke="#33383d" stroke-width="0.25">TradingView</text>
</svg></body></html>
